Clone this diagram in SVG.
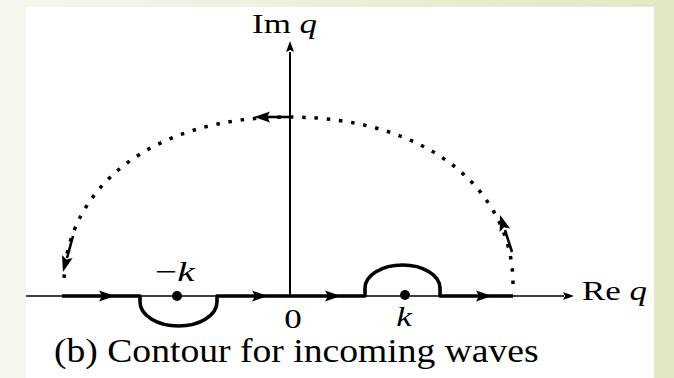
<svg xmlns="http://www.w3.org/2000/svg" xmlns:xlink="http://www.w3.org/1999/xlink" width="674" height="378" viewBox="0 0 674 378">
<defs>
<linearGradient id="bg" x1="0" y1="0" x2="1" y2="0">
<stop offset="0" stop-color="#F5F7EE"/>
<stop offset="1" stop-color="#E1E8C4"/>
</linearGradient>
<path id="ah" d="M0,0 L-16,-5.5 L-13,0 L-16,5.5 Z" fill="#000"/>
<path id="ahs" d="M0,0 L-11,-4 L-9,0 L-11,4 Z" fill="#000"/>
<style>
.lbl{font-family:"Liberation Serif","Times New Roman",serif;font-size:28px;fill:#000}
.cap{font-family:"Liberation Serif","Times New Roman",serif;font-size:33px;fill:#000}
.it{font-style:italic}
.thin{fill:none;stroke:#000;stroke-width:1.4}
.thick{fill:none;stroke:#000;stroke-width:3.6;stroke-linejoin:round}
.dots{fill:none;stroke:#000;stroke-width:3.5;stroke-dasharray:3.5 8.8}
</style>
</defs>
<rect x="0" y="0" width="674" height="378" fill="url(#bg)"/>
<rect x="26" y="7" width="628" height="371" fill="#fff"/>

<g id="axes">
<path class="thin" d="M26,296 H564"/>
<use xlink:href="#ahs" transform="translate(574,296)"/>
<path fill="none" stroke="#000" stroke-width="2" d="M290,296 V52"/>
<use xlink:href="#ahs" transform="translate(290,41) rotate(-90)"/>
</g>

<g id="connectors">
<path class="thick" d="M62,296 H140 V302 A38.5,24 0 0 0 217,302 V296 H365 V288 A37.5,23 0 0 1 440,288 V296 H513"/>
<use xlink:href="#ah" transform="translate(115,296)"/>
<use xlink:href="#ah" transform="translate(268,296)"/>
<use xlink:href="#ah" transform="translate(341,296)"/>
<use xlink:href="#ah" transform="translate(492,296)"/>
<path class="dots" d="M513,284 C513,192 430,117 288.5,117 C147,117 64,192 64,284"/>
<path fill="none" stroke="#000" stroke-width="2.6" d="M290,117 H266"/>
<use xlink:href="#ah" transform="translate(254,117) rotate(180)"/>
<path fill="none" stroke="#000" stroke-width="2.6" d="M73,236 L67,258"/>
<use xlink:href="#ah" transform="translate(63,272) rotate(105.5)"/>
<path fill="none" stroke="#000" stroke-width="2.6" d="M512,252 L505,230"/>
<use xlink:href="#ah" transform="translate(500,215) rotate(-108)"/>
</g>

<g id="pole-neg">
<circle cx="177" cy="296" r="5"/>
<text class="lbl" transform="translate(175,281) scale(1.4,1)" text-anchor="middle">−<tspan class="it">k</tspan></text>
</g>
<g id="pole-pos">
<circle cx="405" cy="295" r="5"/>
<text class="lbl it" transform="translate(404,326) scale(1.25,1)" text-anchor="middle">k</text>
</g>
<g id="origin">
<text class="lbl" transform="translate(293,328) scale(1.25,1)" text-anchor="middle">0</text>
</g>
<g id="label-im">
<text class="lbl" transform="translate(252,33) scale(1.25,1)">Im <tspan class="it">q</tspan></text>
</g>
<g id="label-re">
<text class="lbl" transform="translate(582,300) scale(1.25,1)">Re <tspan class="it">q</tspan></text>
</g>
<g id="caption">
<text class="cap" transform="translate(54,362) scale(1.14,1)">(b)  Contour for incoming waves</text>
</g>
</svg>
